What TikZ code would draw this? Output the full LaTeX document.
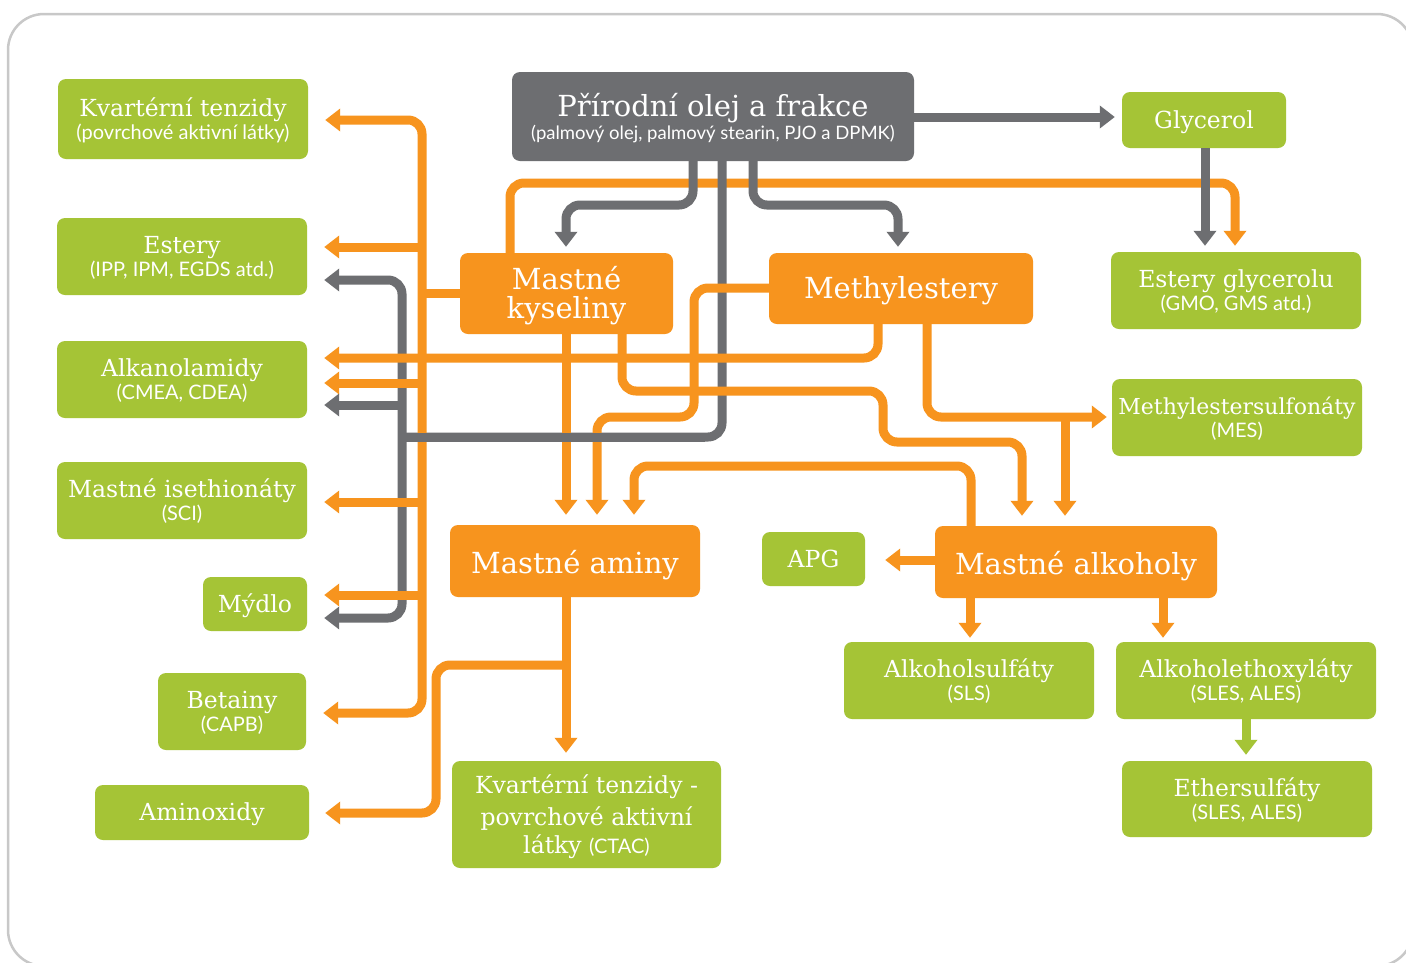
\documentclass[tikz,border=0pt]{standalone}
\usepackage{fontspec}
\usetikzlibrary{arrows.meta,calc}
\newfontfamily\slabfont{DejaVu Serif}
\newfontfamily\subfont{Lato}
\newcommand\mytitle{\slabfont\fontsize{23.5}{27}\selectfont}
\newcommand\mytitlesm{\slabfont\fontsize{22}{26}\selectfont}
\newcommand\mybig{\slabfont\fontsize{29}{33}\selectfont}
\newcommand\mysub{\subfont\fontsize{20}{23}\selectfont}
\newcommand\mysubsm{\subfont\fontsize{18.5}{22}\selectfont}
\definecolor{lgreen}{HTML}{A5C436}
\definecolor{lorange}{HTML}{F7941E}
\definecolor{dgray}{HTML}{6D6E71}
\definecolor{framegray}{HTML}{C8C8C8}
\tikzset{
  box/.style={rounded corners=8pt, inner sep=0pt, draw=none},
  gbox/.style={box, fill=lgreen},
  obox/.style={box, fill=lorange},
  kbox/.style={box, fill=dgray},
  ttl/.style={font=\mytitle, text=white, anchor=base, inner sep=0pt},
  bigt/.style={font=\mybig, text=white, anchor=base, inner sep=0pt},
  sbt/.style={font=\mysub, text=white, anchor=base, inner sep=0pt},
  conn/.style={line width=9pt, rounded corners=14pt},
  oline/.style={conn, draw=lorange},
  gline/.style={conn, draw=dgray},
  grline/.style={conn, draw=lgreen},
  tip/.style={-{Triangle[width=22pt,length=15pt]}},
  both/.style={{Triangle[width=22pt,length=15pt]}-{Triangle[width=22pt,length=15pt]}},
}
\begin{document}
\begin{tikzpicture}[x=1pt,y=-1pt]
\fill[white] (0,0) rectangle (1406,962);
\useasboundingbox (0,0) rectangle (1406,962);
\draw[framegray, line width=2.5pt, rounded corners=36pt] (8,14) rectangle (1413,966);

% boxes
\node[kbox, minimum width=402pt, minimum height=89pt] (olej) at (713,116.5) {};
\node[gbox, minimum width=164pt, minimum height=56pt] (gly) at (1204,120) {};
\node[gbox, minimum width=250pt, minimum height=80pt] (kvL) at (183,119) {};
\node[gbox, minimum width=250pt, minimum height=77pt] (est) at (182,256.5) {};
\node[gbox, minimum width=250pt, minimum height=77pt] (alk) at (182,379.5) {};
\node[gbox, minimum width=250pt, minimum height=77pt] (ise) at (182,500.5) {};
\node[gbox, minimum width=104pt, minimum height=54pt] (myd) at (255,604) {};
\node[gbox, minimum width=148pt, minimum height=77pt] (bet) at (232,711.5) {};
\node[gbox, minimum width=214pt, minimum height=55pt] (amx) at (202,812.5) {};
\node[obox, minimum width=213pt, minimum height=81pt] (mk) at (566.5,293.5) {};
\node[obox, minimum width=264pt, minimum height=71pt] (me) at (901,288.5) {};
\node[gbox, minimum width=250pt, minimum height=77pt] (eg) at (1236,290.5) {};
\node[gbox, minimum width=250pt, minimum height=77pt] (mes) at (1237,417.5) {};
\node[obox, minimum width=250pt, minimum height=72pt] (mam) at (575,561) {};
\node[gbox, minimum width=103pt, minimum height=54pt] (apg) at (813.5,559) {};
\node[obox, minimum width=282pt, minimum height=72pt] (malk) at (1076,562) {};
\node[gbox, minimum width=250pt, minimum height=77pt] (as) at (969,680.5) {};
\node[gbox, minimum width=260pt, minimum height=77pt] (aet) at (1246,680.5) {};
\node[gbox, minimum width=250pt, minimum height=76pt] (eth) at (1247,799) {};
\node[gbox, minimum width=269pt, minimum height=107pt] (kvB) at (586.5,814.5) {};

% texts
\node[bigt] (olej-t) at ([yshift=0pt]olej.center) {Přírodní olej a frakce};
\node[sbt, font=\mysubsm] (olej-s) at ([yshift=-23pt]olej.center) {(palmový olej, palmový stearin, PJO a DPMK)};
\node[ttl] (gly-t) at ([yshift=-8pt]gly.center) {Glycerol};
\node[ttl] (kvL-t) at ([yshift=3pt]kvL.center) {Kvartérní tenzidy};
\node[sbt] (kvL-s) at ([yshift=-20pt]kvL.center) {(povrchové aktivní látky)};
\node[ttl] (est-t) at ([yshift=3pt]est.center) {Estery};
\node[sbt] (est-s) at ([yshift=-20pt]est.center) {(IPP, IPM, EGDS atd.)};
\node[ttl] (alk-t) at ([yshift=3pt]alk.center) {Alkanolamidy};
\node[sbt] (alk-s) at ([yshift=-20pt]alk.center) {(CMEA, CDEA)};
\node[ttl] (ise-t) at ([yshift=3pt]ise.center) {Mastné isethionáty};
\node[sbt] (ise-s) at ([yshift=-20pt]ise.center) {(SCI)};
\node[ttl] (myd-t) at ([yshift=-8pt]myd.center) {Mýdlo};
\node[ttl] (bet-t) at ([yshift=3pt]bet.center) {Betainy};
\node[sbt] (bet-s) at ([yshift=-20pt]bet.center) {(CAPB)};
\node[ttl] (amx-t) at ([yshift=-8pt]amx.center) {Aminoxidy};
\node[bigt] (mk-t1) at ([yshift=4.5pt]mk.center) {Mastné};
\node[bigt] (mk-t2) at ([yshift=-24.5pt]mk.center) {kyseliny};
\node[bigt] (me-t) at ([yshift=-9.5pt]me.center) {Methylestery};
\node[ttl] (eg-t) at ([yshift=3pt]eg.center) {Estery glycerolu};
\node[sbt] (eg-s) at ([yshift=-20pt]eg.center) {(GMO, GMS atd.)};
\node[ttl, font=\mytitlesm] (mes-t) at ([yshift=3pt]mes.center) {Methylestersulfonáty};
\node[sbt] (mes-s) at ([yshift=-20pt]mes.center) {(MES)};
\node[bigt] (mam-t) at ([yshift=-12pt]mam.center) {Mastné aminy};
\node[ttl] (apg-t) at ([yshift=-8pt]apg.center) {APG};
\node[bigt] (malk-t) at ([yshift=-12pt]malk.center) {Mastné alkoholy};
\node[ttl] (as-t) at ([yshift=3pt]as.center) {Alkoholsulfáty};
\node[sbt] (as-s) at ([yshift=-20pt]as.center) {(SLS)};
\node[ttl] (aet-t) at ([yshift=3pt]aet.center) {Alkoholethoxyláty};
\node[sbt] (aet-s) at ([yshift=-20pt]aet.center) {(SLES, ALES)};
\node[ttl] (eth-t) at ([yshift=3pt]eth.center) {Ethersulfáty};
\node[sbt] (eth-s) at ([yshift=-20pt]eth.center) {(SLES, ALES)};
\node[ttl] (kvB-t1) at ([yshift=21.5pt]kvB.center) {Kvartérní tenzidy -};
\node[ttl] (kvB-t2) at ([yshift=-10.5pt]kvB.center) {povrchové aktivní};
\node[ttl] (kvB-t3) at ([yshift=-38.5pt]kvB.center) {látky {\mysub (CTAC)}};

% orange line to glycerol esters (underneath the grey drops)
\draw[oline, tip, shorten >=6pt] (mk.north -| 510,0) |- (900,183) -| (eg.north -| 1235,0);

% grey connectors
\draw[gline, tip, shorten >=7pt] (olej.east |- 0,117) -- (gly.west |- 0,117);
\draw[gline, tip, shorten >=6pt] (gly.south -| 1205,0) -- (eg.north -| 1205,0);
\draw[gline, tip, shorten >=6pt] (olej.south -| 693,0) |- (630,205) -| (mk.north -| 566,0);
\draw[gline, tip, shorten >=6pt] (olej.south -| 753,0) |- (830,205) -| (me.north -| 898,0);
\draw[gline] (olej.south -| 722,0) |- (402,437);
\draw[gline, both, shorten <=17pt, shorten >=17pt] (est.east |- 0,280) -| (402,450) |- (myd.east |- 0,618);
\draw[gline, tip, shorten >=17pt] (402,405) -- (alk.east |- 0,405);

% orange trunk on the left
\draw[oline] (mk.west) -- (mk.west -| 422,0);
\draw[oline, both, shorten <=17pt, shorten >=17pt] (kvL.east |- 0,120) -| (422,400) |- (bet.east |- 0,713);
\draw[oline, tip, shorten >=17pt] (422,247) -- (est.east |- 0,247);
\draw[oline, tip, shorten >=17pt] (422,383) -- (alk.east |- 0,383);
\draw[oline, tip, shorten >=17pt] (422,502) -- (ise.east |- 0,502);
\draw[oline, tip, shorten >=17pt] (422,595) -- (myd.east |- 0,595);

% orange connectors in the middle
\draw[oline, tip, shorten >=10pt] (me.west |- 0,288) -| (694,417) -| (mam.north -| 597,0);
\draw[oline, tip, shorten >=10pt] (mk.south -| 566,0) -- (mam.north -| 566,0);
\draw[oline, tip, shorten >=17pt] (me.south -| 878,0) |- (alk.east |- 0,358);
\draw[oline, tip, shorten >=10pt] (mk.south -| 622,0) |- (883,391) |- (950,442) -| (malk.north -| 1022,0);
\draw[oline, tip, shorten >=5pt] (me.south -| 927,0) |- (mes.west |- 0,417);
\coordinate (mesj) at (1065,417);
\draw[oline, tip, shorten >=10pt] (mesj) -- (malk.north -| 1065,0);
\draw[oline, tip, shorten >=10pt] (malk.north -| 971,0) |- (800,466) -| (mam.north -| 634,0);
\draw[oline, tip, shorten >=20pt] (malk.west |- 0,560) -- (apg.east |- 0,560);
\draw[oline, tip, shorten >=4pt] (malk.south -| 970,0) -- (as.north -| 970,0);
\draw[oline, tip, shorten >=4pt] (malk.south -| 1163,0) -- (aet.north -| 1163,0);
\draw[oline, tip, shorten >=8pt] (mam.south -| 566,0) -- (kvB.north -| 566,0);
\coordinate (amj) at (566,665);
\draw[oline, tip, shorten >=16pt] (amj) -| (436,740) |- (amx.east |- 0,813);
\draw[grline, tip, shorten >=6pt] (aet.south -| 1246,0) -- (eth.north -| 1246,0);

% grey horizontal passes over the orange verticals
\draw[gline] (406,437) -- (705,437);
\end{tikzpicture}
\end{document}
